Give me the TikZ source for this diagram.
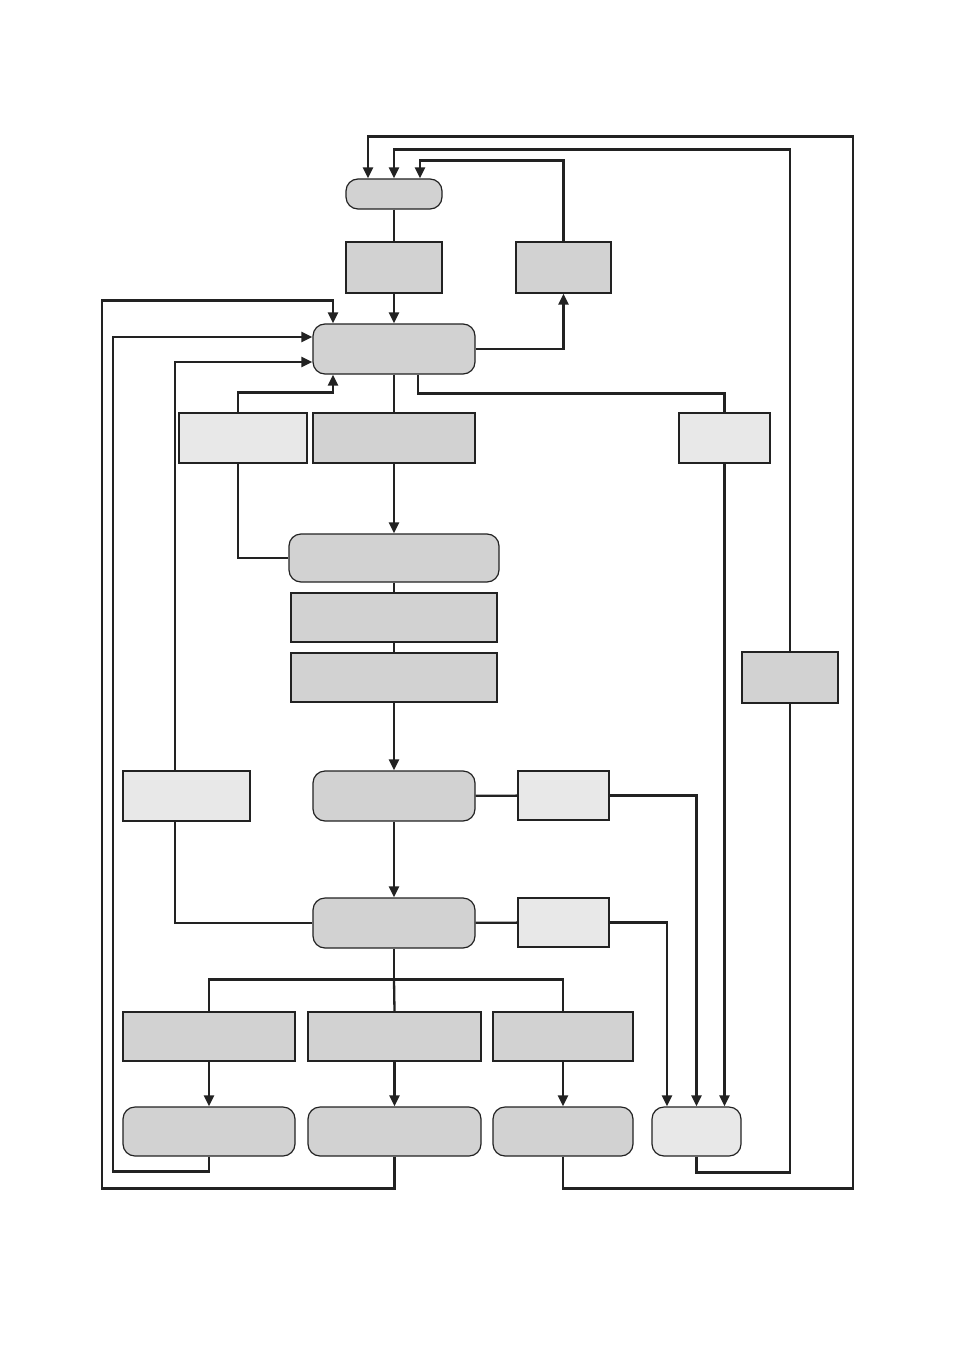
\documentclass[tikz,border=0pt]{standalone}
\usetikzlibrary{arrows.meta,calc}
\definecolor{dk}{HTML}{D2D2D2}
\definecolor{lt}{HTML}{E8E8E8}
\definecolor{ln}{HTML}{222222}
\begin{document}
\begin{tikzpicture}[x=1pt,y=-1pt,
  box/.style={draw=ln,line width=1.2pt,fill=dk,inner sep=0pt},
  lbox/.style={box,fill=lt},
  rbox/.style={box,rounded corners=12pt},
  lrbox/.style={lbox,rounded corners=12pt},
  conn/.style={draw=ln,line width=2.3pt},
  arr/.style={conn,-{Triangle[length=11pt,width=10pt]}}]
\useasboundingbox (0,0) rectangle (954,1351);
% nodes
\node[rbox,minimum width=96pt,minimum height=30pt] (T) at (394,194) {};
\node[box,minimum width=96pt,minimum height=51pt] (A) at (394,267.5) {};
\node[box,minimum width=95pt,minimum height=51pt] (B) at (563.5,267.5) {};
\node[rbox,minimum width=162pt,minimum height=50pt] (M) at (394,349) {};
\node[lbox,minimum width=128pt,minimum height=50pt] (C) at (243,438) {};
\node[box,minimum width=162pt,minimum height=50pt] (D) at (394,438) {};
\node[lbox,minimum width=91pt,minimum height=50pt] (E) at (724.5,438) {};
\node[rbox,minimum width=210pt,minimum height=48pt] (F) at (394,558) {};
\node[box,minimum width=206pt,minimum height=49pt] (G) at (394,617.5) {};
\node[box,minimum width=206pt,minimum height=49pt] (H) at (394,677.5) {};
\node[box,minimum width=96pt,minimum height=51pt] (I) at (790,677.5) {};
\node[lbox,minimum width=127pt,minimum height=50pt] (J) at (186.5,796) {};
\node[rbox,minimum width=162pt,minimum height=50pt] (K) at (394,796) {};
\node[lbox,minimum width=91pt,minimum height=49pt] (L) at (563.5,795.5) {};
\node[rbox,minimum width=162pt,minimum height=50pt] (N) at (394,923) {};
\node[lbox,minimum width=91pt,minimum height=49pt] (O) at (563.5,922.5) {};
\node[box,minimum width=172pt,minimum height=49pt] (P1) at (209,1036.5) {};
\node[box,minimum width=173pt,minimum height=49pt] (P2) at (394.5,1036.5) {};
\node[box,minimum width=140pt,minimum height=49pt] (P3) at (563,1036.5) {};
\node[rbox,minimum width=172pt,minimum height=49pt] (Q1) at (209,1131.5) {};
\node[rbox,minimum width=173pt,minimum height=49pt] (Q2) at (394.5,1131.5) {};
\node[rbox,minimum width=140pt,minimum height=49pt] (Q3) at (563,1131.5) {};
\node[lrbox,minimum width=89pt,minimum height=49pt] (Q4) at (696.5,1131.5) {};
\coordinate (T1) at ($(T.north)+(-26,0)$);
\coordinate (T2) at (T.north);
\coordinate (T3) at ($(T.north)+(26,0)$);
% connectors
\draw[conn] (T) -- (A);
\draw[arr] (A) -- (M);
\draw[arr] (M.east) -| (B.south);
\draw[arr] (B.north) |- ($(T3)+(0,-18)$) -- (T3);
\draw[arr] (I.north) |- ($(T2)+(0,-29)$) -- (T2);
\draw[arr] (Q3.south) -- ++(0,32) -- ++(290,0) |- ($(T1)+(0,-42)$) -- (T1);
\draw[conn] (Q4.south) -- ++(0,16) -| (I.south);
\draw[conn] (M) -- (D);
\draw[arr] (D) -- (F);
\draw[conn] ($(M.south)+(24,0)$) -- ++(0,19) -| (E.north);
\draw[arr] (E.south) -- (E.south |- Q4.north);
\draw[arr] ($(C.north)+(-5,0)$) -- ++(0,-20) -| ($(M.south)+(-61,0)$);
\draw[conn] ($(C.south)+(-5,0)$) |- (F.west);
\draw[conn] (F) -- (G);
\draw[conn] (G) -- (H);
\draw[arr] (H) -- (K);
\draw[conn] (K) -- (L);
\draw[arr] (L.east) -| (Q4.north);
\draw[arr] (K) -- (N);
\draw[conn] (N) -- (O);
\draw[arr] (O.east) -| ($(Q4.north)+(-29.5,0)$);
\draw[conn] (N.west) -| ($(J.south)+(-11.5,0)$);
\draw[arr] ($(J.north)+(-11.5,0)$) |- ($(M.west)+(0,13)$);
\draw[conn] (N.south) -- ++(0,31) coordinate (nb);
\draw[conn] (P1.north) |- (nb) -| (P3.north);
\draw[conn] (nb) -- (P2.north);
\draw[arr] (P1) -- (Q1);
\draw[arr] (P2) -- (Q2);
\draw[arr] (P3) -- (Q3);
\draw[arr] (Q1.south) -- ++(0,15) -- ++(-96,0) |- ($(M.west)+(0,-12)$);
\draw[arr] (Q2.south) -- ++(0,32) -- ++(-292.5,0) |- ($(M.north)+(-61,-23)$) -- ($(M.north)+(-61,0)$);
\end{tikzpicture}
\end{document}
